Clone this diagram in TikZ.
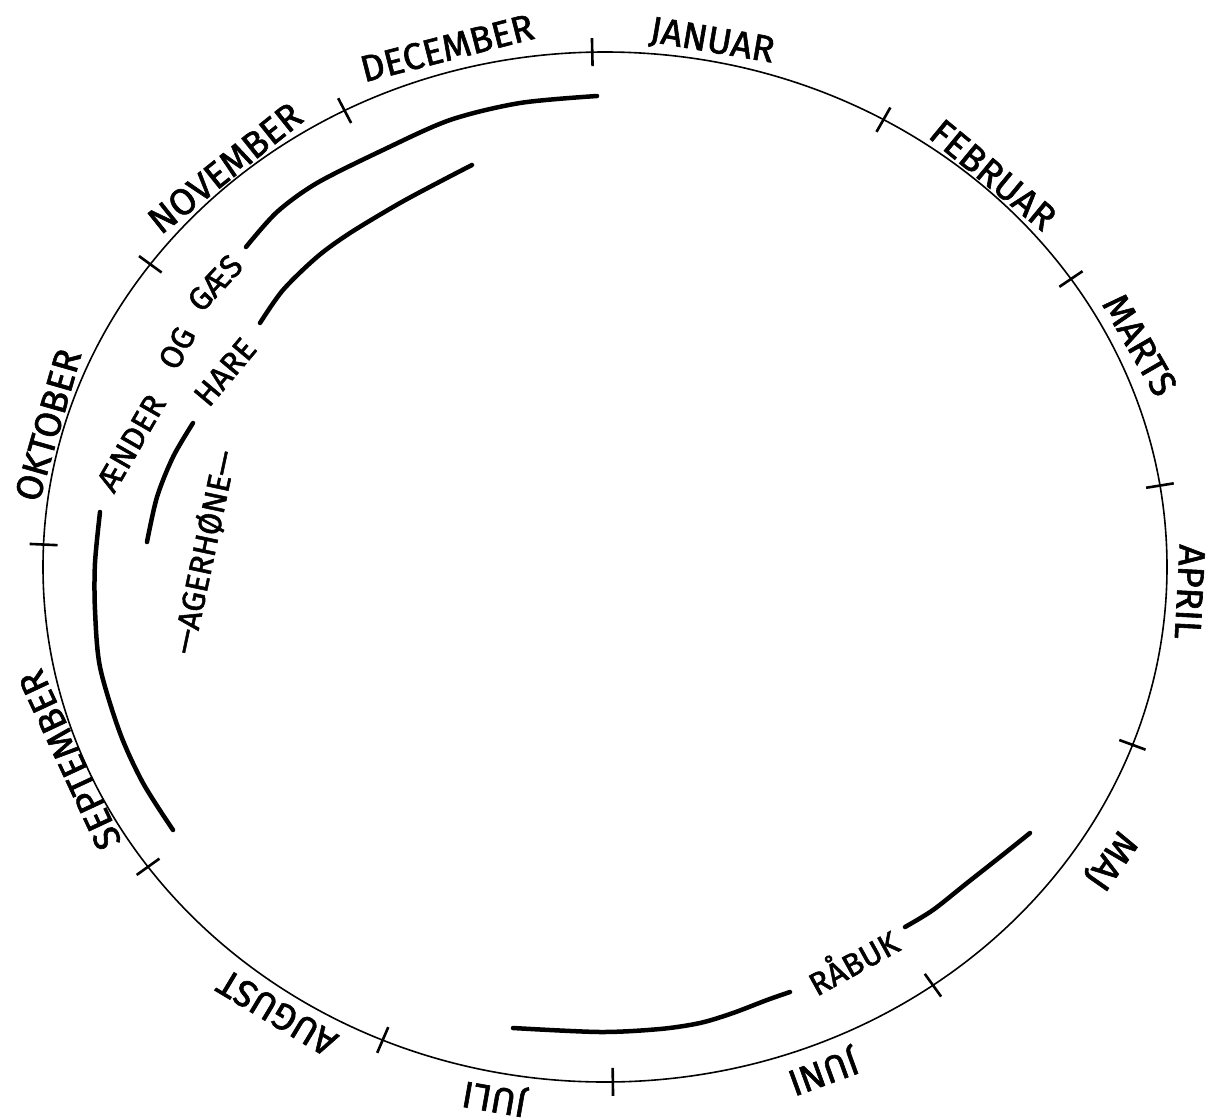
\documentclass[tikz,border=0pt]{standalone}
\usepackage{fontspec}
\setmainfont{Fira Sans}[FakeBold=1.6]
\begin{document}
\begin{tikzpicture}[x=1pt,y=-1pt,
  month/.style={font=\fontsize{37}{40}\selectfont, inner sep=0pt},
  species/.style={font=\fontsize{32}{34}\selectfont, inner sep=0pt},
  bar/.style={line width=4.5pt, line cap=round},
  ring/.style={line width=1.6pt},
  tickmark/.style={line width=2.6pt}]
\useasboundingbox (0,0) rectangle (1210,1119);
% year ring
\draw[ring] (605,567) ellipse [x radius=562, y radius=515];
\foreach \t in {91.3,60.3,34,9.1,-20.2,-54.3,-89.2,-113.3,-144.4,177.5,144,117.6}
  \draw[tickmark] ({605+548*cos(\t)},{567-501*sin(\t)}) -- ({605+576*cos(\t)},{567-529*sin(\t)});
% months
\node[month, rotate=-9.7]  (jan) at (712,42)   {JANUAR};
\node[month, rotate=-39.5] (feb) at (993,175)  {FEBRUAR};
\node[month, rotate=-60]   (mar) at (1140,345) {MARTS};
\node[month, rotate=-93]   (apr) at (1190,592) {APRIL};
\node[month, rotate=-125]  (maj) at (1110,860) {MAJ};
\node[month, rotate=-160]  (jun) at (823,1070) {JUNI};
\node[month, rotate=170]   (jul) at (495,1097) {JULI};
\node[month, rotate=149]   (aug) at (277,1013) {AUGUST};
\node[month, rotate=115]   (sep) at (70,760)   {SEPTEMBER};
\node[month, rotate=74]    (okt) at (48,425)   {OKTOBER};
\node[month, rotate=38.6]  (nov) at (225,168)  {NOVEMBER};
\node[month, rotate=14.4]  (dec) at (447,48)   {DECEMBER};
% species labels
\node[species, rotate=60] (aender) at (131,443) {ÆNDER};
\node[species, rotate=62] (og)     at (177,348) {OG};
\node[species, rotate=47] (gaes)   at (215,283) {GÆS};
\node[species, rotate=50] (hare)   at (225,372) {HARE};
\node[species, font=\fontsize{32}{34}\selectfont, rotate=78] (ager) at (204,552) {—AGERHØNE—};
\node[species, rotate=29] (rabuk)  at (852,960) {RÅBUK};
% species bars
\draw[bar] plot[smooth] coordinates {(597,96) (520,103) (450,120) (383,150) (317,183) (277,212) (246,247)};
\draw[bar] plot[smooth] coordinates {(100,512) (95,563) (95,610) (100,667) (120,733) (143,783) (173,830)};
\draw[bar] plot[smooth] coordinates {(472,165) (443,180) (400,203) (350,233) (317,257) (283,290) (260,323)};
\draw[bar] plot[smooth] coordinates {(193,423) (173,457) (157,497) (147,542)};
\draw[bar] plot[smooth] coordinates {(1030,833) (1000,857) (967,883) (933,910) (905,927)};
\draw[bar] plot[smooth] coordinates {(790,992) (767,1000) (733,1013) (700,1023) (660,1029) (600,1032) (513,1028)};
\end{tikzpicture}
\end{document}
